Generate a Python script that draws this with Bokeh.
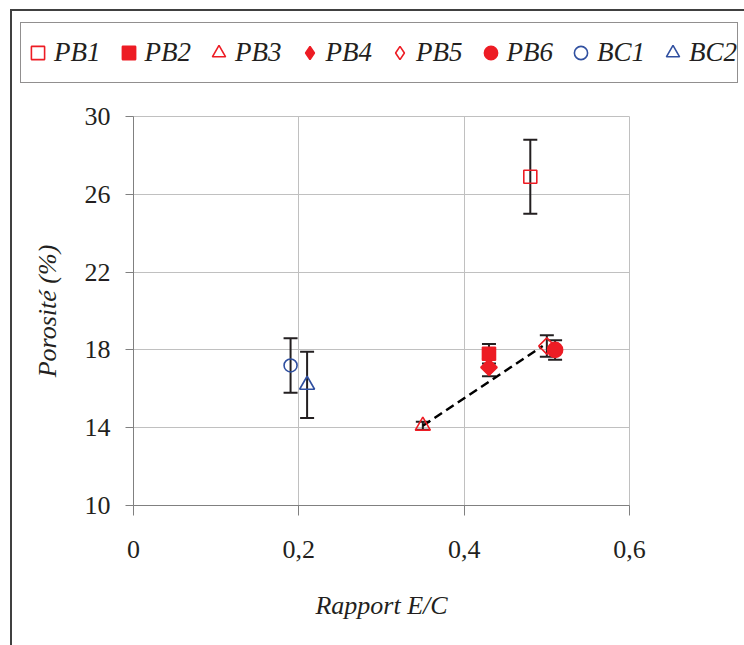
from bokeh.plotting import figure
from bokeh.layouts import column
from bokeh.models import (ColumnDataSource, Whisker, TeeHead, Legend, LegendItem,
                          FixedTicker, Range1d, InlineStyleSheet)
from bokeh.embed import file_html
from bokeh.resources import INLINE

# ---- data ----
series = ["PB1", "PB2", "PB3", "PB4", "PB5", "PB6", "BC1", "BC2"]
ec_ratio = [0.48, 0.43, 0.35, 0.43, 0.50, 0.51, 0.19, 0.21]
porosity = [26.9, 17.8, 14.1, 17.1, 18.2, 18.0, 17.2, 16.2]
error = [1.9, 0.5, 0.2, 0.45, 0.55, 0.5, 1.4, 1.7]
trend_x = [0.35, 0.495]
trend_y = [14.1, 18.2]
x_ticks = [0, 0.2, 0.4, 0.6]
x_tick_labels = ["0", "0,2", "0,4", "0,6"]
y_ticks = [10, 14, 18, 22, 26, 30]

# ---- styles ----
RED = "#ed1c24"
BLUE = "#3050a0"
markers = ["square", "square", "triangle", "square", "square", "circle", "circle", "triangle"]
legend_markers = ["square", "square", "triangle", "diamond", "diamond", "circle", "circle", "triangle"]
angles = [0, 0, 0, 45, 45, 0, 0, 0]
colors = [RED, RED, RED, RED, RED, RED, BLUE, BLUE]
filled = [False, True, False, True, False, True, False, False]
sizes = [13, 13, 15, 11.5, 11.5, 15, 13, 15]

FONT = "Liberation Serif"
TOP_H = 90

frame_css = InlineStyleSheet(css="""
:host::after {
  content: "";
  position: absolute;
  left: 10px; top: 9px; right: -20px; bottom: -20px;
  border-top: 2px solid #404040;
  border-left: 2px solid #404040;
  pointer-events: none;
  z-index: 10;
}
""")

# ---- legend strip ----
top = figure(width=744, height=TOP_H, min_border=0,
             min_border_left=0, min_border_right=0,
             min_border_top=0, min_border_bottom=0,
             x_range=Range1d(0, 1), y_range=Range1d(0, 1),
             x_axis_location=None, y_axis_location=None,
             output_backend="svg", toolbar_location=None)
top.grid.visible = False
top.outline_line_color = None
top.background_fill_color = "white"
top.border_fill_color = "white"
top.frame_align = False

# ---- main chart ----
p = figure(frame_width=496, frame_height=389,
           min_border_left=133, min_border_right=115,
           min_border_top=116 - TOP_H, min_border_bottom=140,
           x_range=Range1d(0, 0.6), y_range=Range1d(10, 30),
           output_backend="svg", toolbar_location=None)
p.background_fill_color = "white"
p.border_fill_color = "white"
p.outline_line_color = "#c0c0c0"
p.frame_align = False

for ax in (p.xaxis[0], p.yaxis[0]):
    ax.axis_line_color = "#808080"
    ax.major_tick_line_color = "#808080"
    ax.minor_tick_line_color = None
    ax.major_tick_in = 0
    ax.major_label_text_font = FONT
    ax.major_label_text_font_size = "26px"
    ax.major_label_text_color = "#231f20"
    ax.axis_label_text_font = FONT
    ax.axis_label_text_font_size = "26px"
    ax.axis_label_text_font_style = "italic"
    ax.axis_label_text_color = "#231f20"

p.xaxis.ticker = FixedTicker(ticks=x_ticks)
p.xaxis.major_label_overrides = {t: l for t, l in zip(x_ticks, x_tick_labels)}
p.xaxis.major_tick_out = 10
p.xaxis.major_label_standoff = 25
p.xaxis.axis_label = "Rapport E/C"
p.xaxis.axis_label_standoff = 30

p.yaxis.ticker = FixedTicker(ticks=y_ticks)
p.yaxis.major_tick_out = 8
p.yaxis.major_label_standoff = 15
p.yaxis.axis_label = "Porosité (%)"
p.yaxis.axis_label_standoff = 20

p.xgrid.ticker = FixedTicker(ticks=x_ticks)
p.ygrid.ticker = FixedTicker(ticks=y_ticks)
p.xgrid.grid_line_color = "#c0c0c0"
p.ygrid.grid_line_color = "#c0c0c0"

p.line(trend_x, trend_y, line_color="black", line_width=2.5, line_dash="9 5")

src_err = ColumnDataSource(dict(
    x=ec_ratio,
    upper=[y + e for y, e in zip(porosity, error)],
    lower=[y - e for y, e in zip(porosity, error)],
))
p.add_layout(Whisker(source=src_err, base="x", upper="upper", lower="lower",
                     dimension="height", line_color="#231f20", line_width=2,
                     upper_head=TeeHead(size=14, line_color="#231f20", line_width=2),
                     lower_head=TeeHead(size=14, line_color="#231f20", line_width=2)))

items = []
for i, name in enumerate(series):
    common = dict(line_color=colors[i], line_width=1.6,
                  fill_color=colors[i] if filled[i] else None)
    p.scatter([ec_ratio[i]], [porosity[i]], size=sizes[i], marker=markers[i],
              angle=angles[i], angle_units="deg", **common)
    # legend-strip copy: same point, lies outside the strip's (0, 1) y-range
    r_leg = top.scatter([ec_ratio[i]], [porosity[i]], size=sizes[i],
                        marker=legend_markers[i], **common)
    items.append(LegendItem(label=name, renderers=[r_leg]))

legend = Legend(items=items, orientation="horizontal", location=(20, TOP_H - 83),
                padding=0, spacing=11, glyph_width=33, glyph_height=59,
                label_standoff=0, border_line_color="#231f20",
                border_line_width=1.3, background_fill_alpha=0, margin=0,
                label_text_font=FONT, label_text_font_style="italic",
                label_text_font_size="27px", label_text_color="#231f20")
top.add_layout(legend)

layout = column(top, p, spacing=0, stylesheets=[frame_css])
open("out.html", "w").write(file_html(layout, INLINE))
